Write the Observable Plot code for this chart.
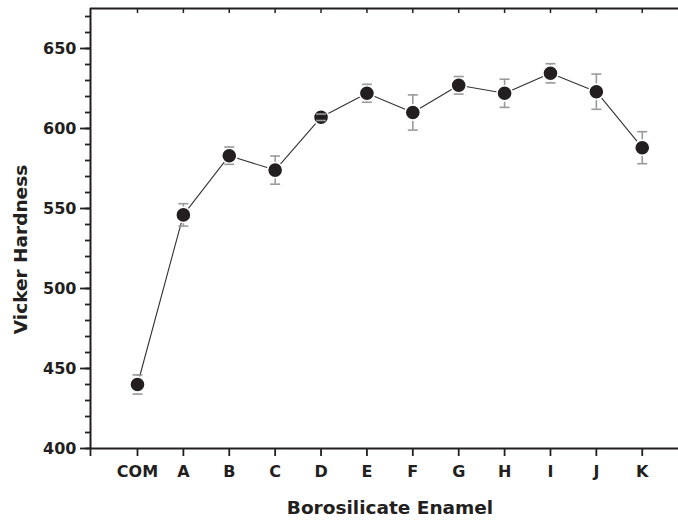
<!DOCTYPE html>
<html>
<head>
<meta charset="utf-8">
<script src="https://cdn.jsdelivr.net/npm/d3@7"></script>
<script src="https://cdn.jsdelivr.net/npm/@observablehq/plot@0.6"></script>
<style>
  html, body { margin: 0; padding: 0; background: #fff; }
  #chart svg { display: block; }
</style>
</head>
<body>
<div id="chart"></div>
<script>
// ---- data ----
const categories = ["COM", "A", "B", "C", "D", "E", "F", "G", "H", "I", "J", "K"];
const hardness   = [440, 546, 583, 574, 607, 622, 610, 627, 622, 634.5, 623, 588];
const errors     = [6, 7, 5.4, 8.8, 2, 5.6, 11, 5.5, 8.8, 6, 11, 10];
const yMajorTicks = [400, 450, 500, 550, 600, 650];
const yMinorTicks = d3.range(400, 680, 10);
const xTitle = "Borosilicate Enamel";
const yTitle = "Vicker Hardness";

const rows = categories.map((c, i) => ({i, c, v: hardness[i], e: errors[i]}));

const ink = "#231f20";
const errColor = "#9a9a9a";
const font = "'DejaVu Sans', sans-serif";
const xMin = -1.024, xMax = 11.79;

// horizontal cap symbol for error bars
const capSymbol = {
  draw(context, size) {
    const r = Math.sqrt(size / Math.PI);
    context.moveTo(-r, 0);
    context.lineTo(r, 0);
  }
};

const chart = Plot.plot({
  width: 678,
  height: 522,
  marginLeft: 90,
  marginRight: 0,
  marginTop: 8,
  marginBottom: 74,
  style: {fontFamily: font, fontWeight: "bold", color: ink, background: "#fff"},
  x: {type: "linear", domain: [xMin, xMax]},
  y: {domain: [400, 675]},
  marks: [
    // minor y ticks
    Plot.axisY(yMinorTicks, {tickSize: 5, tickFormat: () => "", label: null, stroke: ink, strokeWidth: 1.8}),
    // major y ticks with labels
    Plot.axisY(yMajorTicks, {tickSize: 10, tickPadding: 4, tickFormat: d3.format("d"), label: null,
      stroke: ink, strokeWidth: 1.8, fontSize: 16, fill: ink}),
    // bottom x ticks with labels
    Plot.axisX([xMin, ...categories.map((c, i) => i)], {anchor: "bottom", tickSize: 8, tickPadding: 9,
      tickFormat: d => categories[d] ?? "", label: null, stroke: ink, strokeWidth: 1.8, fontSize: 16, fill: ink}),
    // top x ticks (inward)
    Plot.axisX(categories.map((c, i) => i), {anchor: "top", tickSize: -4, tickFormat: () => "", label: null,
      stroke: ink, strokeWidth: 1.5}),
    // frame (left, top, bottom)
    Plot.ruleX([xMin], {y1: 400, y2: 675, stroke: ink, strokeWidth: 2}),
    Plot.ruleY([400, 675], {stroke: ink, strokeWidth: 2}),
    // connecting line
    Plot.line(rows, {x: "i", y: "v", stroke: "#333", strokeWidth: 1.1}),
    // error bars (vertical part, behind dots)
    Plot.ruleX(rows, {x: "i", y1: d => d.v - d.e, y2: d => d.v + d.e, stroke: errColor, strokeWidth: 1.6}),
    // dots with white halo
    Plot.dot(rows, {x: "i", y: "v", r: 7.6, fill: ink, stroke: "#fff", strokeWidth: 1.6}),
    // error caps
    Plot.dot(rows, {x: "i", y: d => d.v + d.e, symbol: capSymbol, r: 5, fill: "none", stroke: errColor, strokeWidth: 1.6}),
    Plot.dot(rows, {x: "i", y: d => d.v - d.e, symbol: capSymbol, r: 5, fill: "none", stroke: errColor, strokeWidth: 1.6}),
    // axis titles
    Plot.text([xTitle], {frameAnchor: "bottom", textAnchor: "middle", dx: 5.5, dy: 60, lineAnchor: "middle",
      fontSize: 18.5, fontWeight: "bold", fill: ink}),
    Plot.text([yTitle], {frameAnchor: "left", textAnchor: "middle", dx: -69, dy: 21, rotate: -90, lineAnchor: "middle",
      fontSize: 18.5, fontWeight: "bold", fill: ink})
  ]
});

document.getElementById("chart").appendChild(chart);
</script>
</body>
</html>
